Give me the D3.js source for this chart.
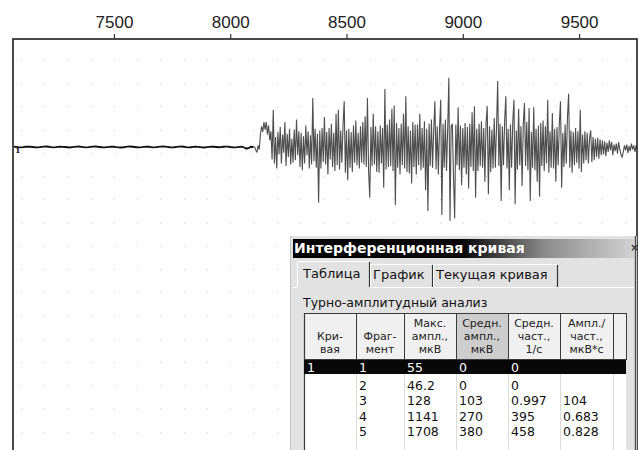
<!DOCTYPE html>
<html>
<head>
<meta charset="utf-8">
<script src="https://cdn.jsdelivr.net/npm/d3@7"></script>
<style>
  body { margin: 0; background: #fff; }
  svg { display: block; }
</style>
</head>
<body>
<svg id="chart" width="641" height="450"></svg>
<script>
// ---- time axis (ms) ----
const timeTicks = [7500, 8000, 8500, 9000, 9500];

// ---- EMG trace, µV ----
// resting segment, one sample every 10 ms
const REST_START_MS = 7070;
const REST_STEP_MS = 10;
const restUv = [
  3, 1, -2, -4, -1, 3, 5, 3, 0, -3,
  -5, -2, 2, 4, 6, 3, -1, -4, -2, 2,
  5, 2, 0, -3, -6, -2, 1, 4, 6, 2,
  -2, -4, -2, 2, 5, 7, 3, 0, -3, -5,
  -2, 1, 4, 3, -1, -4, -6, -3, 1, 4,
  6, 3, 0, -3, -5, -2, 2, 5, 3, -1,
  -4, -2, 2, 5, 7, 4, 1, -3, -5, -3,
  1, 4, 6, 3, -2, -5, -3, 1, 4, 2,
  -1, -4, -6, -2, 2, 5, 3, 0, -3, -2,
  3, 5, 4, 0, -3, -5, -2, 2, 4, -6,
  -20, -10, 3, 0
];

// voluntary contraction (interference pattern), one sample every 5 ms
const BURST_START_MS = 8105;
const BURST_STEP_MS = 5;
const burstUv = [
  0, -40, -60, 20, -30, 160, 250, 180, 300, 210,
  300, 150, 260, 80, 190, -150, 450, -200, 120, -260,
  180, -90, 240, -200, 150, -70, 300, -230, 160, -120,
  220, -210, 100, -190, 210, -160, 330, -100, 190, -240,
  170, -280, 130, -200, 260, -100, 190, -260, 140, -210,
  590, -170, 220, -250, 160, -670, 200, -260, 230, -180,
  360, -210, 180, -330, 230, -150, 280, -240, 170, -290,
  400, -220, 450, -270, 200, -190, 260, 550, -310, 200,
  -400, 220, -250, 180, -300, 260, -190, 320, -220, 170,
  -260, 250, -190, 300, -210, 370, -240, 590, -290, -610,
  240, -230, 400, -210, 250, -300, 190, -310, 260, -200,
  230, -490, 700, -270, 270, -240, 330, -230, 460, -290,
  500, -700, 290, -250, 230, -330, 280, -220, 400, -260,
  610, -300, 250, -320, 200, -440, 300, -240, 270, -330,
  270, -220, 400, -280, 230, -250, 310, -520, 220, -770,
  280, -230, 330, -250, 200, 550, -270, 250, -330, 230,
  570, -820, 280, -250, 330, -290, 220, 835, -890, 250,
  280, -350, -860, 270, -220, 480, -280, 260, -460, 230,
  -250, 290, -330, 240, -500, 280, -240, 420, -290, 490,
  -610, 220, -290, 280, -230, 310, -250, 230, -420, 290,
  490, -570, 250, -300, 210, -260, 350, -250, 240, 795,
  -230, 280, -650, 250, -220, 320, 610, -260, 220, -520,
  270, -250, 310, 570, -690, 200, -270, 460, -220, 250,
  -470, 280, 530, -230, 300, -280, 470, -650, 180, -250,
  480, -280, 220, -420, 260, -600, 290, -230, 320, -290,
  250, -200, 570, -310, 190, -250, 410, -260, 220, -420,
  240, -220, 280, 550, -490, 170, -240, 270, -200, 360,
  640, -250, 200, -310, 180, -220, 230, -190, 190, -260,
  450, -300, 150, -200, 190, -160, 170, -200, 110, 200,
  -180, 120, -160, 100, -120, 110, -140, 90, -100, 80,
  -90, 70, -110, 50, -60, 80, -40, 60, -100, 30,
  -50, 40, -80, 60, -30, -90, -120, -60, 20, -40,
  30, -70, 10, -50, 40, -30, 20, -60, 10, -20
];

// background dot grid: every 100 ms, every 280 µV
const gridStepMs = 100;
const gridStepUv = 280;
const gridOffsetUv = -70;

// ---- turns-amplitude analysis table ----
const dialogTitle = "Интерференционная кривая";
const tabNames = ["Таблица", "График", "Текущая кривая"];
const panelCaption = "Турно-амплитудный анализ";
const colHeaders = [
  ["Кри-", "вая"],
  ["Фраг-", "мент"],
  ["Макс.", "ампл.,", "мкВ"],
  ["Средн.", "ампл.,", "мкВ"],
  ["Средн.", "част.,", "1/с"],
  ["Ампл./", "част.,", "мкВ*с"]
];
const curveIds   = ["1", "", "", "", ""];
const fragments  = ["1", "2", "3", "4", "5"];
const maxAmpl    = ["55", "46.2", "128", "1141", "1708"];
const meanAmpl   = ["0", "0", "103", "270", "380"];
const meanFreq   = ["0", "0", "0.997", "395", "458"];
const amplToFreq = ["", "", "104", "0.683", "0.828"];

// ---------------------------------------------------------------
const svg = d3.select("#chart");
const defs = svg.append("defs");
const plot = { left: 13, top: 39, right: 637, bottom: 470 };

const x = d3.scaleLinear().domain([7066, 9749]).range([plot.left, plot.right]);
const y = d3.scaleLinear().domain([-1000, 1000]).range([230, 64]);

defs.append("clipPath").attr("id", "plotClip")
  .append("rect")
  .attr("x", plot.left).attr("y", plot.top)
  .attr("width", plot.right - plot.left).attr("height", plot.bottom - plot.top);

// dot grid
const gridT = d3.range(7100, 9750, gridStepMs);
const gridV = d3.range(gridOffsetUv - gridStepUv * 13, 1100, gridStepUv);
const dotG = svg.append("g").attr("clip-path", "url(#plotClip)").attr("fill", "#d0d0d0");
gridT.forEach(t => gridV.forEach(v => {
  dotG.append("rect")
    .attr("x", Math.round(x(t))).attr("y", Math.round(y(v)))
    .attr("width", 1).attr("height", 1);
}));

// trace: resting part drawn heavier, contraction part as a dense grey trace
const restPts = restUv.map((v, i) => [REST_START_MS + i * REST_STEP_MS, v]);
const burstPts = [restPts[restPts.length - 1]]
  .concat(burstUv.map((v, i) => [BURST_START_MS + i * BURST_STEP_MS, v]));

const line = d3.line().x(d => x(d[0])).y(d => y(d[1]));
const traceG = svg.append("g").attr("clip-path", "url(#plotClip)").attr("fill", "none");
traceG.append("path").datum(restPts).attr("d", line)
  .attr("stroke", "#111").attr("stroke-width", 1.8);
traceG.append("path").datum(burstPts).attr("d", line)
  .attr("stroke", "#4e4e4e").attr("stroke-width", 1.1);

// curve number marker
svg.append("text")
  .attr("x", plot.left + 2).attr("y", y(0) + 6)
  .attr("font-family", "DejaVu Serif, serif").attr("font-size", 8).attr("font-weight", "bold")
  .attr("fill", "#222").text("1");

// frame
svg.append("rect")
  .attr("x", plot.left).attr("y", plot.top)
  .attr("width", plot.right - plot.left).attr("height", plot.bottom - plot.top)
  .attr("fill", "none").attr("stroke", "#1e1e1e").attr("stroke-width", 1.6);

// top axis
const axis = svg.append("g")
  .attr("transform", `translate(0,${plot.top})`)
  .call(d3.axisTop(x).tickValues(timeTicks).tickSize(5).tickPadding(6).tickFormat(d3.format("d")));
axis.select(".domain").remove();
axis.selectAll(".tick line").attr("stroke", "#333").attr("stroke-width", 1.2);
axis.selectAll(".tick text")
  .attr("font-family", "Liberation Sans, Arial, sans-serif")
  .attr("font-size", 17).attr("fill", "#222");

// ---- dialog window ----
const ui = "DejaVu Sans, Verdana, sans-serif";
const dlg = svg.append("g");
const dX = 290, dY = 236, dR = 637;

dlg.append("rect")
  .attr("x", dX).attr("y", dY).attr("width", dR - dX).attr("height", 450 - dY + 5)
  .attr("fill", "#e2e2e2");
dlg.append("line")
  .attr("x1", dX + 0.5).attr("x2", dX + 0.5).attr("y1", dY).attr("y2", 450)
  .attr("stroke", "#c4c4c4");
dlg.append("line")
  .attr("x1", dR - 1.5).attr("x2", dR - 1.5).attr("y1", dY).attr("y2", 450)
  .attr("stroke", "#4a4a4a").attr("stroke-width", 1.4);

// title bar
const grad = defs.append("linearGradient").attr("id", "titleGrad")
  .attr("x1", 0).attr("x2", 1).attr("y1", 0).attr("y2", 0);
grad.append("stop").attr("offset", 0).attr("stop-color", "#000");
grad.append("stop").attr("offset", 0.5).attr("stop-color", "#080808");
grad.append("stop").attr("offset", 0.74).attr("stop-color", "#8c8c8c");
grad.append("stop").attr("offset", 1).attr("stop-color", "#d2d2d2");

dlg.append("rect")
  .attr("x", dX + 3).attr("y", dY + 3).attr("width", dR - dX - 6).attr("height", 19)
  .attr("fill", "url(#titleGrad)");
dlg.append("text")
  .attr("x", dX + 4).attr("y", dY + 17)
  .attr("font-family", ui).attr("font-size", 14).attr("font-weight", "bold")
  .attr("fill", "#fff").text(dialogTitle);
dlg.append("text")
  .attr("x", dR - 7).attr("y", dY + 15)
  .attr("font-family", ui).attr("font-size", 11).attr("font-weight", "bold")
  .attr("fill", "#333").text("×");

// tabs
const tabEdges = [297, 370, 433, 558];
const tabTop = 261, tabBottom = 288;
dlg.append("line")
  .attr("x1", dX + 3).attr("x2", dR - 3).attr("y1", tabBottom - 0.5).attr("y2", tabBottom - 0.5)
  .attr("stroke", "#fff");
tabNames.forEach((name, i) => {
  const a = tabEdges[i], b = tabEdges[i + 1];
  const top = i === 0 ? tabTop : tabTop + 3;
  if (i === 0) {
    dlg.append("rect").attr("x", a).attr("y", top).attr("width", b - a).attr("height", tabBottom - top + 1)
      .attr("fill", "#e2e2e2");
  }
  dlg.append("path")
    .attr("d", `M${a + 0.5},${tabBottom} V${top + 0.5} H${b - 1}`)
    .attr("fill", "none").attr("stroke", "#fff");
  dlg.append("line")
    .attr("x1", b - 0.5).attr("x2", b - 0.5).attr("y1", top + 1).attr("y2", tabBottom - 1)
    .attr("stroke", "#333").attr("stroke-width", 1.2);
  dlg.append("text")
    .attr("x", a + (i === 0 ? 6 : 3)).attr("y", i === 0 ? 278 : 279)
    .attr("font-family", ui).attr("font-size", 13).attr("fill", "#111").text(name);
});

dlg.append("text")
  .attr("x", 303).attr("y", 307)
  .attr("font-family", ui).attr("font-size", 12.5).attr("fill", "#111").text(panelCaption);

// table
const colEdges = [304, 356, 404, 456, 508, 560, 613, 626];
const tTop = 313, headH = 46, rowTop = tTop + headH + 1;
const columns = [curveIds, fragments, maxAmpl, meanAmpl, meanFreq, amplToFreq];
const headLine = 13;

dlg.append("rect")
  .attr("x", colEdges[0]).attr("y", tTop)
  .attr("width", colEdges[colEdges.length - 1] - colEdges[0]).attr("height", 450 - tTop + 5)
  .attr("fill", "#fff");

// header cells
for (let i = 0; i < colEdges.length - 1; i++) {
  dlg.append("rect")
    .attr("x", colEdges[i] + 0.5).attr("y", tTop + 0.5)
    .attr("width", colEdges[i + 1] - colEdges[i]).attr("height", headH)
    .attr("fill", i === 3 ? "#cdcdcd" : "#f0f0f0")
    .attr("stroke", "#3a3a3a").attr("stroke-width", 1);
}
colHeaders.forEach((lines, i) => {
  const cx = (colEdges[i] + colEdges[i + 1]) / 2;
  const n = lines.length;
  lines.forEach((s, k) => {
    dlg.append("text")
      .attr("x", cx).attr("y", tTop + headH - 6 - (n - 1 - k) * headLine)
      .attr("text-anchor", "middle")
      .attr("font-family", ui).attr("font-size", 11).attr("fill", "#222").text(s);
  });
});

// body column rules
colEdges.slice(1, -1).forEach(e => {
  dlg.append("line")
    .attr("x1", e + 0.5).attr("x2", e + 0.5).attr("y1", rowTop + 14).attr("y2", 450)
    .attr("stroke", "#dadada");
});
dlg.append("line")
  .attr("x1", colEdges[0] + 0.5).attr("x2", colEdges[0] + 0.5).attr("y1", tTop).attr("y2", 450)
  .attr("stroke", "#3a3a3a").attr("stroke-width", 1.2);

// selected row
dlg.append("rect")
  .attr("x", colEdges[0]).attr("y", rowTop)
  .attr("width", colEdges[colEdges.length - 1] - colEdges[0]).attr("height", 14)
  .attr("fill", "#080808");

const rowY = r => r === 0 ? rowTop + 7 : 385 + (r - 1) * 15.5;
columns.forEach((col, c) => {
  col.forEach((val, r) => {
    if (!val) return;
    dlg.append("text")
      .attr("x", colEdges[c] + 3).attr("y", rowY(r))
      .attr("dy", "0.36em")
      .attr("font-family", ui).attr("font-size", 12.5)
      .attr("fill", r === 0 ? "#fff" : "#111").text(val);
  });
});
</script>
</body>
</html>
